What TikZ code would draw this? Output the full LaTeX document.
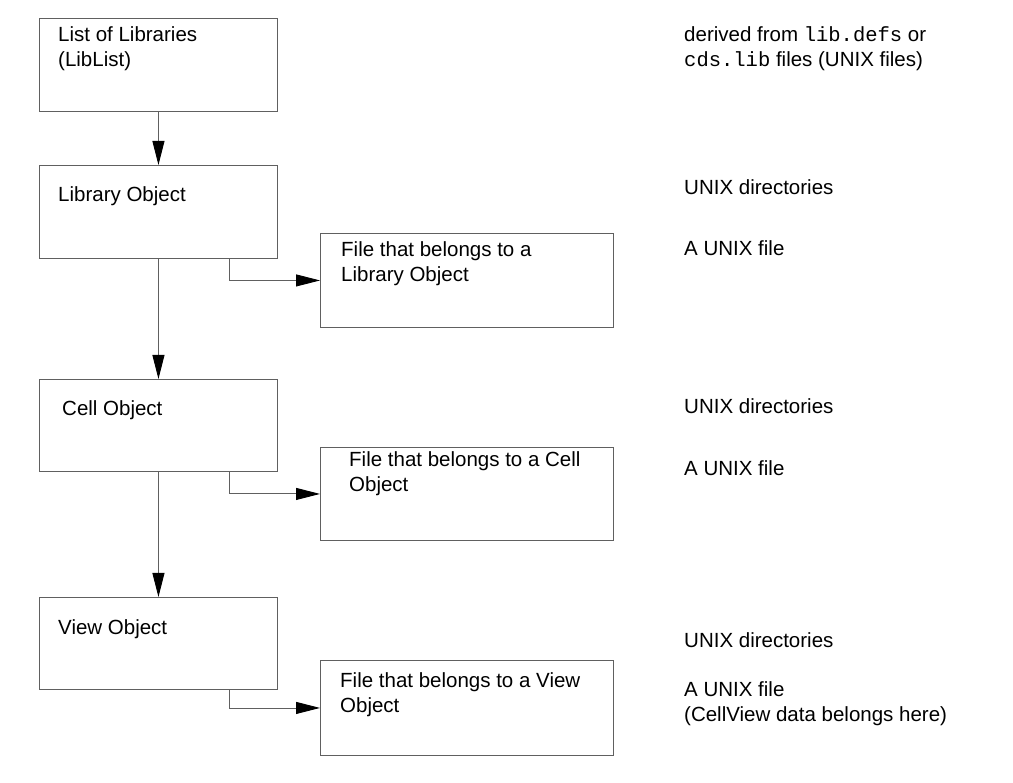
\documentclass[tikz,border=0pt]{standalone}
\usepackage{fontspec}
\setmainfont{Liberation Sans}
\newfontfamily\codefont{Liberation Mono}
\usetikzlibrary{arrows.meta}
\definecolor{linegray}{HTML}{606060}
\tikzset{
  box/.style={draw=linegray, line width=0.9pt, anchor=north west, inner sep=0pt},
  txt/.style={anchor=base west, inner sep=0pt, font=\fontsize{20.5}{25}\selectfont},
  arr/.style={draw=linegray, line width=0.9pt, -{Triangle[length=24pt,width=12pt,color=black]}}
}
\begin{document}
\begin{tikzpicture}[x=1pt,y=-1pt]
\useasboundingbox (0,0) rectangle (1013,783);
% boxes
\node[box, minimum width=238pt, minimum height=93pt] (b1) at (39,18) {};
\node[box, minimum width=238pt, minimum height=93pt] (b2) at (39,165) {};
\node[box, minimum width=293pt, minimum height=94pt] (b3) at (320,233) {};
\node[box, minimum width=238pt, minimum height=92pt] (b4) at (39,379) {};
\node[box, minimum width=293pt, minimum height=93pt] (b5) at (320,447) {};
\node[box, minimum width=238pt, minimum height=92pt] (b6) at (39,597) {};
\node[box, minimum width=293pt, minimum height=95pt] (b7) at (320,660) {};
% box texts
\node[txt] (t1a) at (58,42) {List of Libraries};
\node[txt] (t1b) at (58,67) {(LibList)};
\node[txt] (t2) at (58,202) {Library Object};
\node[txt] (t3a) at (341,257) {File that belongs to a};
\node[txt] (t3b) at (341,282) {Library Object};
\node[txt] (t4) at (62,416) {Cell Object};
\node[txt] (t5a) at (349,467) {File that belongs to a Cell};
\node[txt] (t5b) at (349,492) {Object};
\node[txt] (t6) at (58,634) {View Object};
\node[txt] (t7a) at (340,687) {File that belongs to a View};
\node[txt] (t7b) at (340,712) {Object};
% right column texts
\node[txt] (r1a) at (684,42) {derived from {\codefont lib.defs} or};
\node[txt] (r1b) at (684,67) {{\codefont cds.lib} files (UNIX files)};
\node[txt] (r2) at (684,195) {UNIX directories};
\node[txt] (r3) at (684,256) {A UNIX file};
\node[txt] (r4) at (684,414) {UNIX directories};
\node[txt] (r5) at (684,476) {A UNIX file};
\node[txt] (r6) at (684,647) {UNIX directories};
\node[txt] (r7a) at (684,696) {A UNIX file};
\node[txt] (r7b) at (684,721) {(CellView data belongs here)};
% connectors
\draw[arr] (b1.south) -- (b2.north);
\draw[arr] (b2.south) -- (b4.north);
\draw[arr] (b4.south) -- (b6.north);
\draw[arr] ([xshift=71pt]b2.south) |- (b3.west);
\draw[arr] ([xshift=71pt]b4.south) |- (b5.west);
\draw[arr] ([xshift=71pt]b6.south) |- (b7.west);
\end{tikzpicture}
\end{document}
